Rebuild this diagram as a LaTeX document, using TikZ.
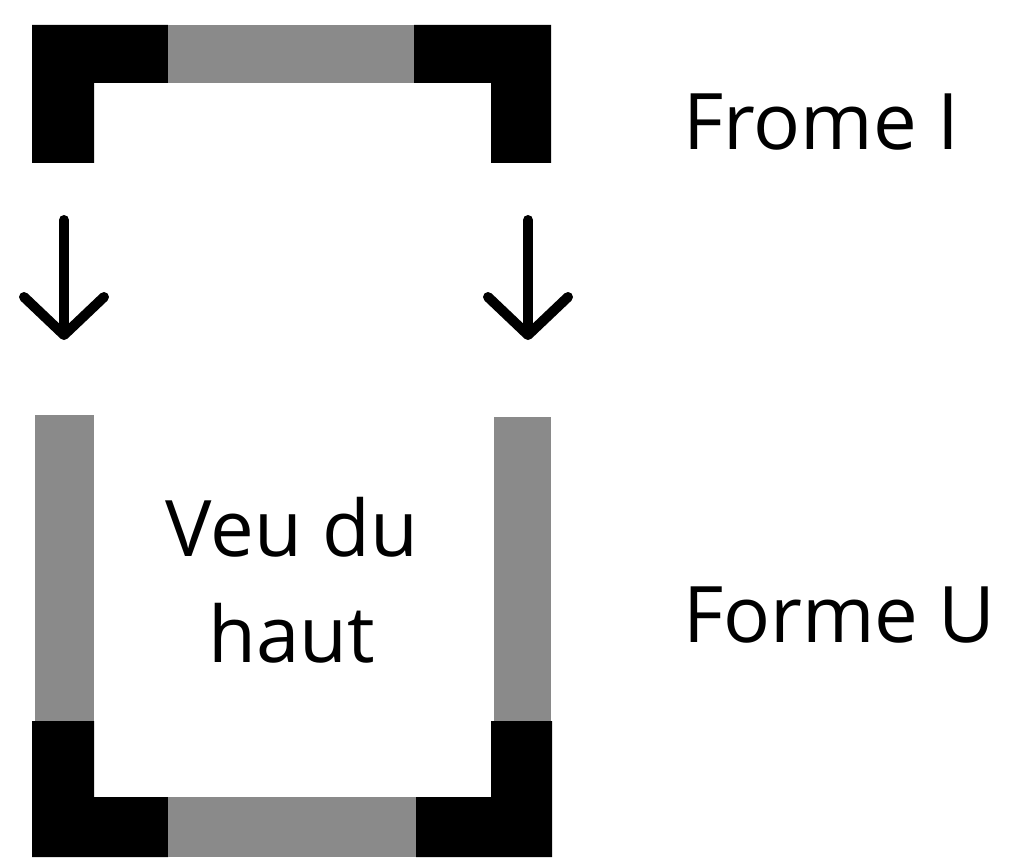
\documentclass[tikz,border=0pt]{standalone}
\usepackage{fontspec}
\setmainfont{Open Sans}
\usetikzlibrary{arrows.meta,positioning}
\definecolor{partgray}{HTML}{8A8A8A}

\begin{document}
\begin{tikzpicture}[
    x=1pt, y=-1pt,
    darkpart/.style={fill=black},
    lightpart/.style={fill=partgray},
    caption/.style={font=\fontsize{78}{100}\selectfont, inner sep=0pt},
    movearrow/.style={line width=10pt, line cap=round,
        -{Straight Barb[length=38pt, width=80pt, line cap=round, line join=round]}}
]
\useasboundingbox (0,0) rectangle (1013,864);

% top piece
\fill[darkpart] (32,25) -- (168,25) -- (168,83) -- (94,83) -- (94,163) -- (32,163) -- cycle;
\fill[lightpart] (168,25) rectangle (414,83);
\fill[darkpart] (414,25) -- (551,25) -- (551,163) -- (491,163) -- (491,83) -- (414,83) -- cycle;

% arrows
\coordinate (la1) at (64,220);
\coordinate (la2) at (64,340);
\coordinate (ra1) at (528,220);
\coordinate (ra2) at (528,340);
\draw[movearrow] (la1) -- (la2);
\draw[movearrow] (ra1) -- (ra2);

% bottom piece
\fill[lightpart] (35,415) rectangle (94,721);
\fill[lightpart] (494,417) rectangle (551,721);
\fill[darkpart] (32,721) -- (94,721) -- (94,797) -- (168,797) -- (168,857) -- (32,857) -- cycle;
\fill[lightpart] (168,797) rectangle (416,857);
\fill[darkpart] (491,721) -- (552,721) -- (552,857) -- (416,857) -- (416,797) -- (491,797) -- cycle;

% labels
\node[caption, anchor=base west] (formeI) at (683,150) {Frome I};
\node[caption, anchor=base west] (formeU) at (683,642) {Forme U};
\node[caption, anchor=base] (vue1) at (292,556) {Veu du};
\node[caption, anchor=base] (vue2) at (292,662) {haut};

\end{tikzpicture}
\end{document}
